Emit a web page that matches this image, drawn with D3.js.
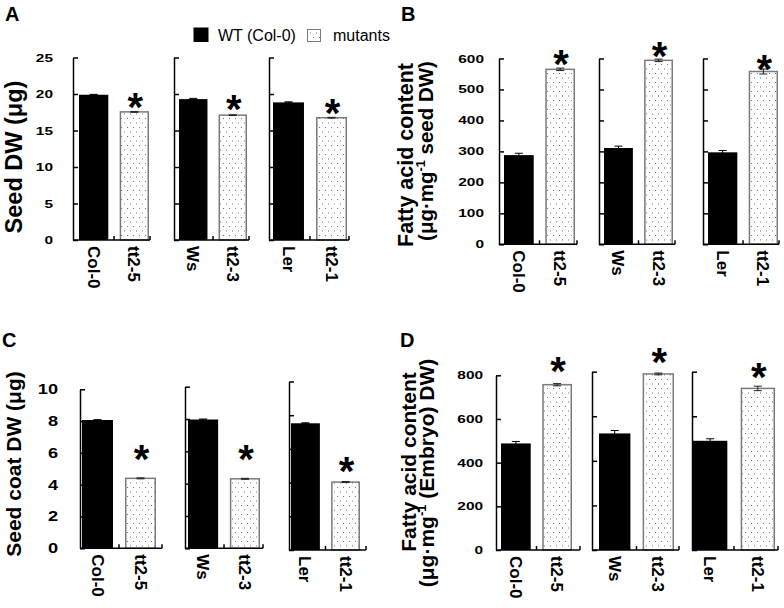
<!DOCTYPE html>
<html><head><meta charset="utf-8">
<script src="https://cdn.jsdelivr.net/npm/d3@7"></script>
<style>
body{margin:0;background:#fff}
svg{display:block;font-family:Arial,"Liberation Sans",sans-serif}
</style>
</head><body>
<svg id="chart" width="784" height="608"></svg>
<script>
// ---------- data ----------
const genotypesWT = ["Col-0", "Ws", "Ler"];
const genotypesMut = ["tt2-5", "tt2-3", "tt2-1"];
const legendLabels = ["WT (Col-0)", "mutants"];

const seedDW_WT = [19.9, 19.3, 18.85];
const seedDW_WT_err = [0.05, 0.1, 0.08];
const seedDW_mut = [17.55, 17.1, 16.75];
const seedDW_mut_err = [0.06, 0.05, 0.05];
const seedDW_ticks = [0, 5, 10, 15, 20, 25];

const faSeed_WT = [288, 311, 297];
const faSeed_WT_err = [6, 6, 6];
const faSeed_mut = [565, 594, 558];
const faSeed_mut_err = [4, 4, 8];
const faSeed_ticks = [0, 100, 200, 300, 400, 500, 600];

const coat_WT = [8.07, 7.97, 7.52];
const coat_WT_err = [0.02, 0.03, 0.03];
const coat_mut = [4.40, 4.30, 4.03];
const coat_mut_err = [0.03, 0.03, 0.03];
const coat_ticks = [0, 2, 4, 6, 8, 10];

const faEmb_WT = [488, 523, 490];
const faEmb_WT_err = [9, 13, 9];
const faEmb_mut = [757, 790, 725];
const faEmb_mut_err = [5, 4, 10];
const faEmb_ticks = [0, 200, 400, 600, 800];

const significant = [true, true, true];

// ---------- layout ----------
const panels = [
  { letter: "A", letterPos: [5, 21], wt: seedDW_WT, wtErr: seedDW_WT_err, mut: seedDW_mut, mutErr: seedDW_mut_err,
    ticks: seedDW_ticks, tickFont: 11, tickScale: 1.4, tickGap: 20, starOff: [13, 14, 13],
    subs: [ {ax: 73, end: 150, b0: 79, b1: 149, top: 57.5, bottom: 240},
            {ax: 174, end: 249, b0: 179, b1: 247, top: 57.5, bottom: 240},
            {ax: 269, end: 349, b0: 273, b1: 347, top: 57.5, bottom: 240} ],
    title: [ {x: 21.5, y: 157, size: 23.5, parts: [["Seed DW (μg)"]]} ] },
  { letter: "B", letterPos: [401, 21], wt: faSeed_WT, wtErr: faSeed_WT_err, mut: faSeed_mut, mutErr: faSeed_mut_err,
    ticks: faSeed_ticks, tickFont: 11, tickScale: 1.4, tickGap: 15, starOff: [13, 12, 11],
    subs: [ {ax: 499, end: 577, b0: 504, b1: 575, top: 58.5, bottom: 244.3},
            {ax: 599, end: 675, b0: 604, b1: 673, top: 58.5, bottom: 244.3},
            {ax: 703, end: 779, b0: 708, b1: 778, top: 58.5, bottom: 244.3} ],
    title: [ {x: 413, y: 155, size: 21.5, parts: [["Fatty acid content"]]},
             {x: 433, y: 151, size: 20.5, parts: [["(μg·mg"], ["-1", "sup"], [" seed DW)"]]} ] },
  { letter: "C", letterPos: [2, 347], wt: coat_WT, wtErr: coat_WT_err, mut: coat_mut, mutErr: coat_mut_err,
    ticks: coat_ticks, tickFont: 14, tickScale: 1.3, tickGap: 22, starOff: [27, 28, 19],
    subs: [ {ax: 80, end: 162, b0: 82, b1: 156, top: 389.3, bottom: 548.3},
            {ax: 185, end: 263, b0: 188, b1: 260, top: 386.7, bottom: 548.3},
            {ax: 289, end: 366, b0: 291, b1: 360, top: 381.5, bottom: 550} ],
    title: [ {x: 21, y: 464, size: 21, parts: [["Seed coat DW (μg)"]]} ] },
  { letter: "D", letterPos: [400, 347], wt: faEmb_WT, wtErr: faEmb_WT_err, mut: faEmb_mut, mutErr: faEmb_mut_err,
    ticks: faEmb_ticks, tickFont: 11, tickScale: 1.4, tickGap: 13, starOff: [22, 20, 19],
    subs: [ {ax: 496, end: 580, b0: 501, b1: 572, top: 375.3, bottom: 550},
            {ax: 592, end: 679, b0: 599, b1: 674, top: 371.7, bottom: 550},
            {ax: 692, end: 778, b0: 693, b1: 775, top: 371.7, bottom: 550} ],
    title: [ {x: 416, y: 462, size: 21, parts: [["Fatty acid content"]]},
             {x: 434, y: 473, size: 21, parts: [["(μg·mg"], ["-1", "sup"], [" (Embryo) DW)"]]} ] }
];

const svg = d3.select("#chart");

// dotted pattern
const defs = svg.append("defs");
const pat = defs.append("pattern").attr("id", "dots").attr("patternUnits", "userSpaceOnUse")
  .attr("width", 6).attr("height", 9);
pat.append("rect").attr("width", 6).attr("height", 9).attr("fill", "#fff");
pat.append("rect").attr("x", 1).attr("y", 1).attr("width", 1).attr("height", 1).attr("fill", "#777");
pat.append("rect").attr("x", 4).attr("y", 5.5).attr("width", 1).attr("height", 1).attr("fill", "#777");

function drawPanel(p) {
  const g = svg.append("g");
  g.append("text").attr("x", p.letterPos[0]).attr("y", p.letterPos[1])
    .attr("font-size", 20).attr("font-weight", "bold").text(p.letter);

  p.title.forEach(t => {
    const tx = g.append("text")
      .attr("transform", `translate(${t.x},${t.y}) rotate(-90)`)
      .attr("text-anchor", "middle").attr("font-size", t.size).attr("font-weight", "bold");
    let shifted = false;
    t.parts.forEach(pt => {
      const ts = tx.append("tspan").text(pt[0]);
      if (pt[1] === "sup") { ts.attr("font-size", t.size * 0.62).attr("dy", -t.size * 0.38); shifted = true; }
      else if (shifted) { ts.attr("dy", t.size * 0.38); shifted = false; }
    });
  });

  p.subs.forEach((s, i) => {
    const y = d3.scaleLinear().domain([0, p.ticks[p.ticks.length - 1]]).range([s.bottom, s.top]);
    const x = d3.scaleBand().domain([genotypesWT[i], genotypesMut[i]])
      .range([s.b0, s.b1]).paddingInner(0.28).paddingOuter(0);
    const sg = g.append("g");

    // bars
    const rows = [
      {name: genotypesWT[i], v: p.wt[i], e: p.wtErr[i], mutant: false},
      {name: genotypesMut[i], v: p.mut[i], e: p.mutErr[i], mutant: true}
    ];
    sg.selectAll("rect.bar").data(rows).join("rect").attr("class", "bar")
      .attr("x", d => x(d.name) + (d.mutant ? 0.75 : 0))
      .attr("width", d => x.bandwidth() - (d.mutant ? 1.5 : 0))
      .attr("y", d => y(d.v))
      .attr("height", d => s.bottom - y(d.v))
      .attr("fill", d => d.mutant ? "url(#dots)" : "#000")
      .attr("stroke", d => d.mutant ? "#7a7a7a" : "none")
      .attr("stroke-width", 1.5);

    // error bars
    rows.forEach(d => {
      const cx = x(d.name) + x.bandwidth() / 2;
      const eg = sg.append("g").attr("stroke", d.mutant ? "#222" : "#000").attr("stroke-width", 1);
      eg.append("line").attr("x1", cx).attr("x2", cx).attr("y1", y(d.v - d.e)).attr("y2", y(d.v + d.e));
      [d.v - d.e, d.v + d.e].forEach(ev => {
        eg.append("line").attr("x1", cx - 4).attr("x2", cx + 4).attr("y1", y(ev)).attr("y2", y(ev));
      });
    });

    // y axis
    const pad = p.tickGap / p.tickScale;
    const yAxis = d3.axisLeft(y).tickValues(p.ticks).tickSizeInner(-5).tickSizeOuter(0).tickPadding(pad)
      .tickFormat(i === 0 ? d3.format("d") : () => "");
    const ya = sg.append("g").attr("transform", `translate(${s.ax},0)`).call(yAxis);
    ya.select(".domain").attr("stroke-width", 1.5);
    ya.selectAll(".tick line").attr("stroke-width", 1.5);
    ya.selectAll(".tick text").attr("font-size", p.tickFont).attr("font-weight", "bold")
      .attr("font-family", "Arial, 'Liberation Sans', sans-serif").attr("fill", "#000")
      .attr("transform", `scale(${p.tickScale},1)`);

    // x axis labels via band scale
    const xAxis = d3.axisBottom(x).tickSize(0).tickPadding(0);
    const xa = sg.append("g").attr("transform", `translate(0,${s.bottom})`).call(xAxis);
    xa.select(".domain").remove();
    xa.selectAll(".tick text")
      .attr("font-size", 17).attr("font-weight", "bold").attr("fill", "#000")
      .attr("font-family", "Arial, 'Liberation Sans', sans-serif")
      .attr("text-anchor", "start").attr("transform", "rotate(90)")
      .attr("x", 6).attr("y", 0).attr("dy", "0.35em");

    // x axis line with separating ticks
    const mid = (x(genotypesWT[i]) + x.bandwidth() + x(genotypesMut[i])) / 2;
    const xl = sg.append("g").attr("stroke", "#000").attr("stroke-width", 1.5);
    xl.append("line").attr("x1", s.ax).attr("x2", s.end).attr("y1", s.bottom).attr("y2", s.bottom);
    [mid, s.end].forEach(tx => {
      xl.append("line").attr("x1", tx).attr("x2", tx).attr("y1", s.bottom).attr("y2", s.bottom - 4);
    });

    // significance star
    if (significant[i]) {
      const cx = x(genotypesMut[i]) + x.bandwidth() / 2 + 1;
      const cy = y(p.mut[i]) - p.starOff[i];
      sg.append("text").attr("x", cx).attr("y", cy + 22).attr("text-anchor", "middle")
        .attr("font-size", 40).attr("font-weight", "bold").text("*");
    }
  });
}
panels.forEach(drawPanel);

// legend
const lg = svg.append("g");
lg.append("rect").attr("x", 193.5).attr("y", 27.5).attr("width", 15).attr("height", 14.5).attr("fill", "#000");
lg.append("text").attr("x", 218).attr("y", 40.5).attr("font-size", 16).text(legendLabels[0]);
lg.append("rect").attr("x", 307.5).attr("y", 29.5).attr("width", 13).attr("height", 12).attr("fill", "url(#dots)")
  .attr("stroke", "#7a7a7a").attr("stroke-width", 1);
lg.append("text").attr("x", 333).attr("y", 40.5).attr("font-size", 16).text(legendLabels[1]);
</script>
</body></html>
